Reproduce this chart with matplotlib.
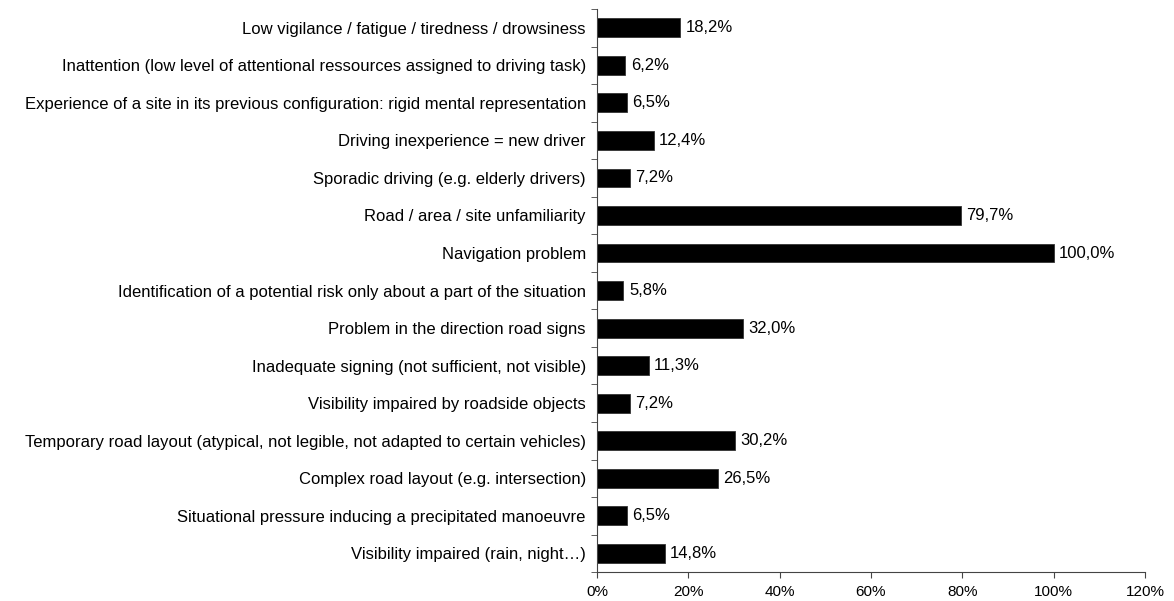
import matplotlib
matplotlib.use("Agg")
import matplotlib.pyplot as plt
import numpy as np
from matplotlib.ticker import FuncFormatter, MultipleLocator

plt.rcParams['font.family'] = ['Liberation Sans', 'DejaVu Sans']

# === DATA ===
categories = [
    "Low vigilance / fatigue / tiredness / drowsiness",
    "Inattention (low level of attentional ressources assigned to driving task)",
    "Experience of a site in its previous configuration: rigid mental representation",
    "Driving inexperience = new driver",
    "Sporadic driving (e.g. elderly drivers)",
    "Road / area / site unfamiliarity",
    "Navigation problem",
    "Identification of a potential risk only about a part of the situation",
    "Problem in the direction road signs",
    "Inadequate signing (not sufficient, not visible)",
    "Visibility impaired by roadside objects",
    "Temporary road layout (atypical, not legible, not adapted to certain vehicles)",
    "Complex road layout (e.g. intersection)",
    "Situational pressure inducing a precipitated manoeuvre",
    "Visibility impaired (rain, night\u2026)",
]
values = [18.2, 6.2, 6.5, 12.4, 7.2, 79.7, 100.0, 5.8, 32.0, 11.3, 7.2, 30.2, 26.5, 6.5, 14.8]
x_ticks = [0, 20, 40, 60, 80, 100, 120]

fig = plt.figure(figsize=(11.74, 6.01), dpi=100)
ax = fig.add_axes([0.5085, 0.048, 0.4668, 0.937])

y = np.arange(len(categories))
ax.barh(y, values, height=0.5, color='black', edgecolor='#333333', linewidth=0.6)

for yi, v in zip(y, values):
    ax.annotate(f"{v:.1f}%".replace('.', ','), xy=(v, yi), xytext=(4, 0),
                textcoords='offset points', va='center', ha='left', fontsize=12)

ax.set_ylim(len(categories) - 0.5, -0.5)
ax.set_yticks(y)
ax.set_yticklabels(categories, fontsize=12)
ax.yaxis.set_minor_locator(MultipleLocator(1, offset=0.5))
ax.tick_params(axis='y', which='major', length=0, pad=8)
ax.tick_params(axis='y', which='minor', length=4, direction='out', color='#444444')

ax.set_xlim(0, 120)
ax.set_xticks(x_ticks)
ax.xaxis.set_major_formatter(FuncFormatter(lambda v, p: f"{v:.0f}%"))
ax.tick_params(axis='x', length=4, direction='out', labelsize=11, pad=5, color='#444444')

for s in ['top', 'right']:
    ax.spines[s].set_visible(False)
for s in ['left', 'bottom']:
    ax.spines[s].set_color('#444444')
    ax.spines[s].set_linewidth(0.8)

fig.savefig("out.png", dpi=100)
